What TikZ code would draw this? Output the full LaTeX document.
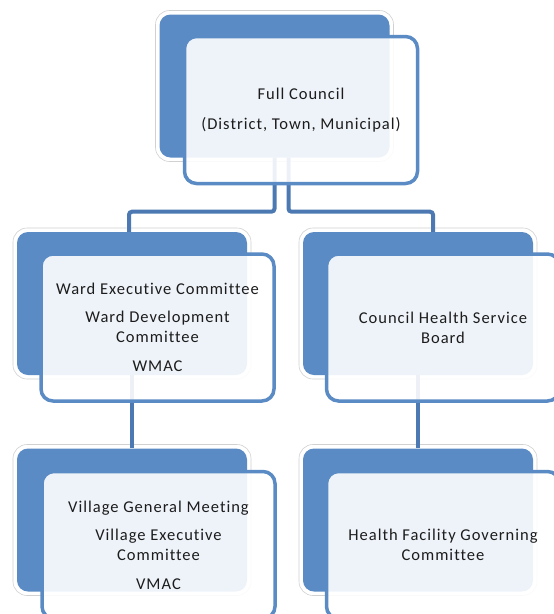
\documentclass[tikz,border=0pt]{standalone}
\usepackage{fontspec}
\setmainfont{Carlito}[LetterSpace=6,Ligatures={NoCommon}]
\definecolor{backblue}{HTML}{5B8BC4}
\definecolor{connblue}{HTML}{4C79B1}
\definecolor{txt}{HTML}{1C1C1C}
\begin{document}
\begin{tikzpicture}[x=1pt,y=-1pt,
  glow/.style={draw=black!18, line width=0.6pt, fill=white, rounded corners=14pt,
    minimum width=238pt, minimum height=151pt, inner sep=0pt},
  back/.style={fill=backblue, rounded corners=11pt, minimum width=230pt,
    minimum height=143pt, inner sep=0pt},
  front/.style={draw=backblue, line width=3.5pt, fill=white, fill opacity=0.9,
    text opacity=1, rounded corners=12pt, minimum width=233pt, minimum height=147pt,
    inner sep=0pt, align=center, text=txt, font=\fontsize{16.5}{20}\selectfont},
  conn/.style={draw=connblue, line width=4pt, rounded corners=3pt}]
\useasboundingbox (0,0) rectangle (554,614);
\clip (0,0) rectangle (554,614);
\fill[white] (0,0) rectangle (554,614);
% glows and back boxes
\node[glow] (topglow) at (274.5,86) {};
\node[back] (topback) at (274.5,86) {};
\node[glow] (wardglow) at (132,303.5) {};
\node[back] (wardback) at (132,303.5) {};
\node[glow] (chsbglow) at (418,303.5) {};
\node[back] (chsbback) at (418,303.5) {};
\node[glow] (villglow) at (132,520) {};
\node[back] (villback) at (132,520) {};
\node[glow] (hfglow) at (418,520) {};
\node[back] (hfback) at (418,520) {};
% connectors
\draw[conn] (topback.south) -- ++(0,54) -| ([xshift=-3pt]wardback.north);
\draw[conn] ([xshift=14pt]topback.south) -- ++(0,54) -| ([xshift=15pt]chsbback.north);
\draw[conn] (wardback.south) -- (villback.north);
\draw[conn] (chsbback.south) -- (hfback.north);
% front boxes
\node[front] (top) at (301,110) {Full Council\\[10pt](District, Town, Municipal)};
\node[front] (ward) at (157.5,327.5) {Ward Executive Committee\\[8pt]Ward Development\\Committee\\[9pt]WMAC};
\node[front] (chsb) at (443,327.5) {Council Health Service\\Board};
\node[front] (vill) at (158.5,545) {Village General Meeting\\[8pt]Village Executive\\Committee\\[9pt]VMAC};
\node[front] (hf) at (443,545) {Health Facility Governing\\Committee};
\end{tikzpicture}
\end{document}
